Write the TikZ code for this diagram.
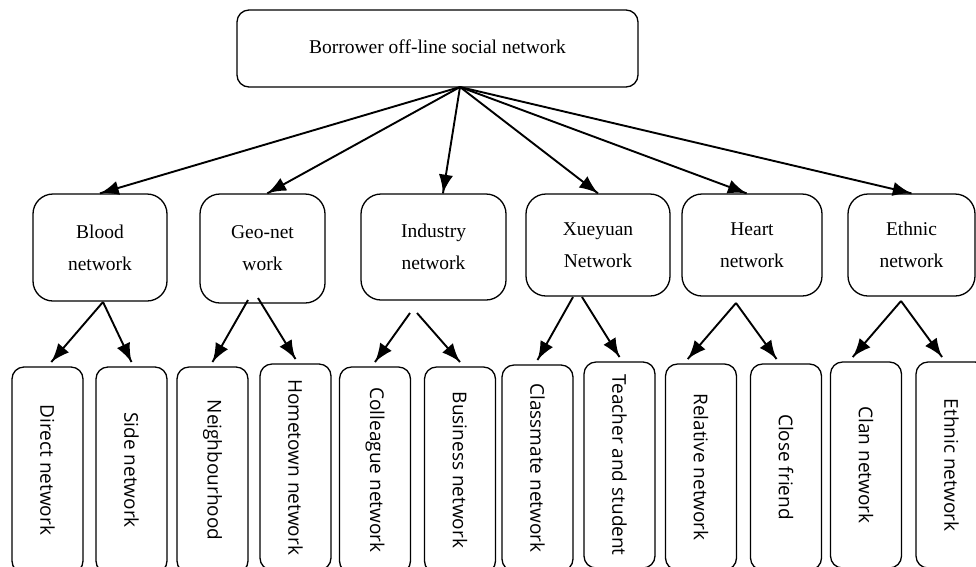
\documentclass[tikz,border=0pt]{standalone}
\usepackage{fontspec}
\usepackage{graphicx}
\usepackage{tikz}
\setmainfont{Liberation Serif}
\newfontfamily\leaffont{Open Sans}
\usetikzlibrary{arrows}
\usetikzlibrary{decorations.markings}
\usetikzlibrary{positioning}
\tikzset{arr/.style = {line width = 1.9pt,
                       decoration={markings,
                                   mark=at position 1 with {\arrow[scale=2.2]{latex}}},
                       postaction={decorate}}}
\tikzset{rootbox/.style = {draw, line width = 1.3pt, rounded corners = 12pt, inner sep = 0,
                           minimum width = 401pt, minimum height = 77pt,
                           font = \fontsize{19.5pt}{32pt}\selectfont}}
\tikzset{midbox/.style = {draw, line width = 1.3pt, rounded corners = 20pt, inner sep = 0,
                          minimum height = 104pt, align = center,
                          font = \fontsize{19.5pt}{32pt}\selectfont}}
\tikzset{leafbox/.style = {draw, line width = 1.3pt, rounded corners = 12pt, inner sep = 0,
                           minimum width = 71pt, minimum height = 206pt, outer sep = 5pt,
                           font = \leaffont\fontsize{19pt}{23pt}\selectfont}}
\newcommand{\down}[1]{\rotatebox{-90}{#1}}

\begin{document}
\begin{tikzpicture}[x = 1pt, y = -1pt]
      \useasboundingbox (0, 0) rectangle (976, 566);

      \node [rootbox] (root) at (437.5, 48.5) {\raisebox{3pt}{Borrower off-line social network}};

      \node [midbox, minimum width = 134pt, minimum height = 107pt] (blood) at (100, 247.5) {Blood\\network};
      \node [midbox, minimum width = 125pt, minimum height = 109pt] (geo) at (262.5, 248.5) {Geo-net\\work};
      \node [midbox, minimum width = 145pt, minimum height = 106pt] (industry) at (433.5, 247) {Industry\\network};
      \node [midbox, minimum width = 144pt, minimum height = 102pt] (xueyuan) at (598, 245) {Xueyuan\\Network};
      \node [midbox, minimum width = 140pt, minimum height = 102pt] (heart) at (752, 245) {Heart\\network};
      \node [midbox, minimum width = 127pt, minimum height = 102pt] (ethnic) at (911.5, 245) {Ethnic\\network};

      \node [leafbox] (direct) at (47.5, 470) {\down{Direct network}};
      \node [leafbox] (side) at (131.5, 470) {\down{Side network}};
      \node [leafbox] (neighbour) at (212.5, 470) {\down{Neighbourhood}};
      \node [leafbox] (hometown) at (295.5, 467) {\down{Hometown network}};
      \node [leafbox] (colleague) at (375, 470) {\down{Colleague network}};
      \node [leafbox] (business) at (460, 470) {\down{Business network}};
      \node [leafbox] (classmate) at (537.5, 468) {\down{Classmate network}};
      \node [leafbox] (teacher) at (619.5, 465) {\down{Teacher and student}};
      \node [leafbox] (relative) at (701, 467) {\down{Relative network}};
      \node [leafbox] (friend) at (786, 467) {\down{Close friend}};
      \node [leafbox] (clan) at (866, 465) {\down{Clan network}};
      \node [leafbox] (ethnicnet) at (951.5, 465) {\down{Ethnic network}};

      % where the arrows leave the boxes
      \coordinate (hub) at (460, 87);
      \coordinate (bloodout) at (103, 302);
      \coordinate (geoL) at (248, 300);
      \coordinate (geoR) at (258, 298);
      \coordinate (industryL) at (410, 313);
      \coordinate (industryR) at (417, 313);
      \coordinate (xueyuanL) at (573, 297);
      \coordinate (xueyuanR) at (582, 297);
      \coordinate (heartout) at (736, 303);
      \coordinate (ethnicout) at (901, 301);

      \draw [arr] (hub) -- (blood.north);
      \draw [arr] (hub) -- (geo.85);
      \draw [arr] (hub) -- (industry.80);
      \draw [arr] (hub) -- (xueyuan.north);
      \draw [arr] (hub) -- (heart.96);
      \draw [arr] (hub) -- (ethnic.north);

      \draw [arr] (bloodout) -- (direct.88);
      \draw [arr] (bloodout) -- (side.north);
      \draw [arr] (geoL) -- (neighbour.north);
      \draw [arr] (geoR) -- (hometown.north);
      \draw [arr] (industryL) -- (colleague.north);
      \draw [arr] (industryR) -- (business.north);
      \draw [arr] (xueyuanL) -- (classmate.north);
      \draw [arr] (xueyuanR) -- (teacher.north);
      \draw [arr] (heartout) -- (relative.97);
      \draw [arr] (heartout) -- (friend.95);
      \draw [arr] (ethnicout) -- (clan.97);
      \draw [arr] (ethnicout) -- (ethnicnet.95);
    \end{tikzpicture}
\end{document}
